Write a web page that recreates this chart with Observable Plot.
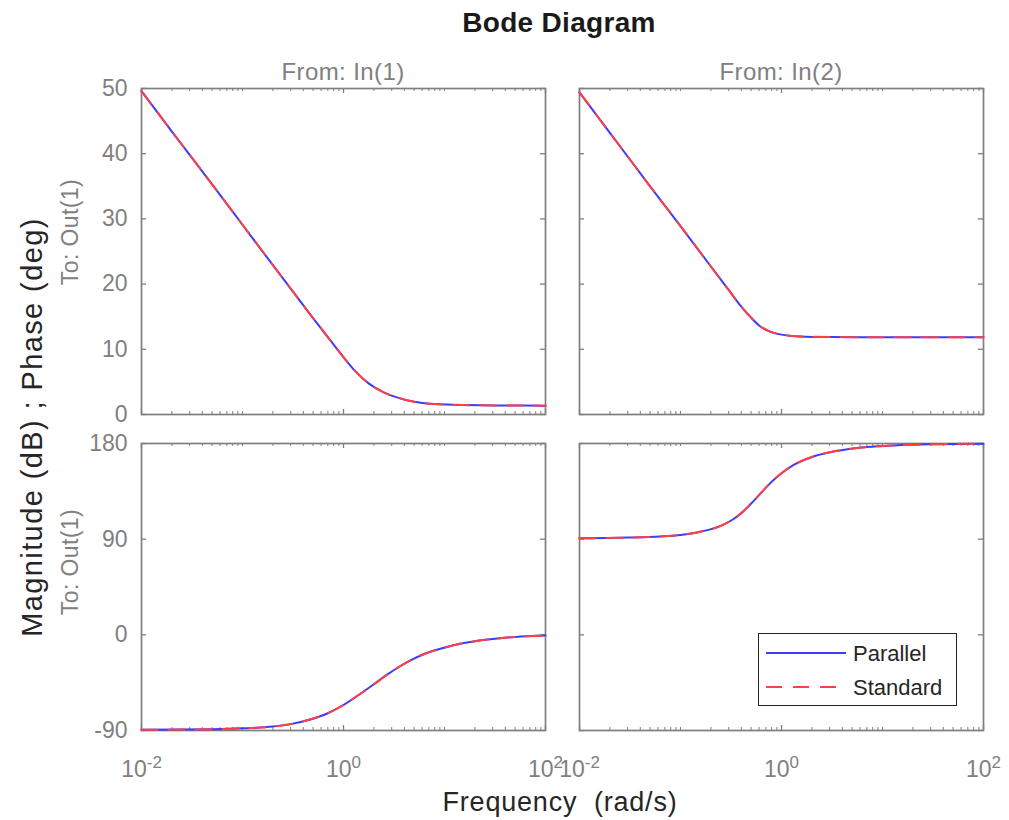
<!DOCTYPE html>
<html>
<head>
<meta charset="utf-8">
<script src="https://cdn.jsdelivr.net/npm/d3@7"></script>
<script src="https://cdn.jsdelivr.net/npm/@observablehq/plot@0.6"></script>
<style>
  html, body { margin: 0; padding: 0; background: #fff; }
  #root { position: relative; width: 1009px; height: 820px; overflow: hidden; font-family: "Liberation Sans", Arial, Helvetica, sans-serif; }
  .txt { position: absolute; white-space: pre; line-height: 1; }
  .plotbox { position: absolute; }
</style>
</head>
<body>
<div id="root"></div>
<script>
// ---------------- data ----------------
const seriesNames = ["Parallel", "Standard"];
const inputNames = ["In(1)", "In(2)"];
const outputName = "Out(1)";

// Magnitude (dB), From In(1)
const freqMagIn1 = [0.01, 0.02, 0.05, 0.1, 0.2, 0.3, 0.45, 0.6, 0.8, 1.0, 1.3, 1.8, 2.5, 3.5, 5, 8, 15, 40, 100];
const magIn1     = [49.6, 43.4, 35.3, 29.1, 22.9, 19.3, 15.7, 13.2, 10.7, 8.8, 6.7, 4.7, 3.4, 2.55, 1.95, 1.6, 1.44, 1.38, 1.36];

// Magnitude (dB), From In(2)
const freqMagIn2 = [0.01, 0.02, 0.05, 0.1, 0.2, 0.3, 0.4, 0.5, 0.6, 0.75, 1.0, 1.5, 3, 10, 100];
const magIn2     = [49.4, 43.2, 35.0, 28.9, 22.7, 19.1, 16.55, 14.85, 13.65, 12.8, 12.25, 11.98, 11.88, 11.85, 11.85];

// Phase (deg), From In(1)
const freqPhaseIn1 = [0.01, 0.05, 0.1, 0.2, 0.3, 0.44, 0.7, 1.0, 1.4, 2.0, 2.75, 3.5, 4.5, 6.3, 9.3, 13.6, 20, 30, 50, 100];
const phaseIn1     = [-89.4, -88.8, -88.0, -86.3, -84.0, -80.4, -73.8, -66.0, -56.8, -46.5, -37.0, -30.5, -24.5, -18.0, -12.9, -8.8, -6.0, -4.0, -2.0, -0.7];

// Phase (deg), From In(2)
const freqPhaseIn2 = [0.01, 0.03, 0.0634, 0.1, 0.15, 0.25, 0.33, 0.4, 0.5, 0.6, 0.7, 0.84, 1.0, 1.32, 2.0, 3.0, 4.2, 7, 13, 30, 100];
const phaseIn2     = [90.8, 91.5, 92.6, 94.0, 96.6, 102.5, 108.5, 114.5, 123.5, 131.5, 138.5, 146.0, 152.0, 159.8, 167.3, 171.8, 174.2, 176.6, 178.2, 179.3, 179.8];

// ticks
const magTicks = [0, 10, 20, 30, 40, 50];
const phaseTicks = [-90, 0, 90, 180];
const freqMajor = [0.01, 1, 100];
const freqMinor = [0.02,0.03,0.04,0.05,0.06,0.07,0.08,0.09,0.1,0.2,0.3,0.4,0.5,0.6,0.7,0.8,0.9,2,3,4,5,6,7,8,9,10,20,30,40,50,60,70,80,90];

// ---------------- styling ----------------
const FONT = '"Liberation Sans", Arial, Helvetica, sans-serif';
const FRAME = "#7f7f7f";
const GRAY_TXT = "#808080";
const DARK_TXT = "#262626";
const BLUE = "#3c3cff";
const RED = "#ff4040";
const DASH = "16,11";

const root = document.getElementById("root");

function rowsFor(freqs, vals) {
  return seriesNames.flatMap(s => freqs.map((f, i) => ({series: s, freq: f, value: vals[i]})));
}

function addText(str, opts) {
  const d = document.createElement("div");
  d.className = "txt";
  d.textContent = str;
  const fs = opts.size;
  d.style.fontSize = fs + "px";
  d.style.color = opts.color;
  if (opts.bold) d.style.fontWeight = "bold";
  if (opts.spacing) d.style.letterSpacing = opts.spacing + "px";
  if (opts.rotate) {
    d.style.left = opts.cx + "px";
    d.style.top = opts.cy + "px";
    d.style.transform = "translate(-50%,-50%) rotate(-90deg)";
  } else {
    d.style.left = opts.cx + "px";
    d.style.top = (opts.baseline - 0.8465 * fs) + "px";
    d.style.transform = "translateX(-50%)";
  }
  root.appendChild(d);
}

function makePanel(cfg) {
  const {rows, yDomain, yTicks, showY, showX, left, top, w, h} = cfg;
  const mL = 80, mR = 34, mT = 10, mB = 62;
  const tickStyle = {stroke: FRAME, strokeWidth: 1.3};
  const par = rows.filter(r => r.series === seriesNames[0]);
  const std = rows.filter(r => r.series === seriesNames[1]);
  const marks = [
    Plot.frame({stroke: FRAME, strokeWidth: 1.7}),
    Plot.tickY(yTicks, {y: d => d, ...tickStyle, insetRight: w - 5}),
    Plot.tickY(yTicks, {y: d => d, ...tickStyle, insetLeft: w - 5}),
    Plot.tickX(freqMajor, {x: d => d, ...tickStyle, insetTop: h - 5}),
    Plot.tickX(freqMajor, {x: d => d, ...tickStyle, insetBottom: h - 5}),
    Plot.tickX(freqMinor, {x: d => d, ...tickStyle, strokeWidth: 1, insetTop: h - 3}),
    Plot.tickX(freqMinor, {x: d => d, ...tickStyle, strokeWidth: 1, insetBottom: h - 3}),
    Plot.line(par, {x: "freq", y: "value", stroke: BLUE, strokeWidth: 2, curve: "monotone-x"}),
    Plot.line(std, {x: "freq", y: "value", stroke: RED, strokeWidth: 2, strokeDasharray: DASH, curve: "monotone-x"})
  ];
  if (showY) {
    marks.push(Plot.axisY(yTicks, {anchor: "left", tickSize: 0, tickPadding: 14, fontSize: 23, fill: GRAY_TXT, tickFormat: d => String(d), label: null}));
  }
  if (showX) {
    marks.push(Plot.axisX(freqMajor, {anchor: "bottom", tickSize: 0, tickPadding: 30, fontSize: 23, fill: GRAY_TXT, tickFormat: d => String(Math.round(Math.log10(d))), label: null}));
  }
  const svg = Plot.plot({
    width: w + mL + mR,
    height: h + mT + mB,
    marginLeft: mL, marginRight: mR, marginTop: mT, marginBottom: mB,
    x: {type: "log", domain: [0.01, 100], axis: null},
    y: {domain: yDomain, axis: null},
    style: {fontFamily: FONT, background: "transparent", color: GRAY_TXT, overflow: "visible"},
    marks
  });
  // superscript exponents on the decade labels
  const ns = "http://www.w3.org/2000/svg";
  svg.querySelectorAll('g[aria-label="x-axis tick label"] text').forEach(t => {
    const e = t.textContent;
    while (t.firstChild) t.removeChild(t.firstChild);
    const a = document.createElementNS(ns, "tspan");
    a.textContent = "10";
    const b = document.createElementNS(ns, "tspan");
    b.textContent = e;
    b.setAttribute("dy", "-9");
    b.setAttribute("font-size", "17");
    t.append(a, b);
  });
  svg.classList.add("plotbox");
  svg.style.left = (left - mL) + "px";
  svg.style.top = (top - mT) + "px";
  svg.style.maxWidth = "none";
  root.appendChild(svg);
}

// panel geometry
const colLeft = [141, 579];
const panelW = 404;
const magTop = 88, magH = 326;
const phaseTop = 443, phaseH = 287;

makePanel({rows: rowsFor(freqMagIn1, magIn1), yDomain: [0, 50], yTicks: magTicks, showY: true, showX: false, left: colLeft[0], top: magTop, w: panelW, h: magH});
makePanel({rows: rowsFor(freqMagIn2, magIn2), yDomain: [0, 50], yTicks: magTicks, showY: false, showX: false, left: colLeft[1], top: magTop, w: panelW, h: magH});
makePanel({rows: rowsFor(freqPhaseIn1, phaseIn1), yDomain: [-90, 180], yTicks: phaseTicks, showY: true, showX: true, left: colLeft[0], top: phaseTop, w: panelW, h: phaseH});
makePanel({rows: rowsFor(freqPhaseIn2, phaseIn2), yDomain: [-90, 180], yTicks: phaseTicks, showY: false, showX: true, left: colLeft[1], top: phaseTop, w: panelW, h: phaseH});

// texts
addText("Bode Diagram", {size: 28, bold: true, color: "#1a1a1a", cx: 559, baseline: 33, spacing: 0.3});
addText("From: " + inputNames[0], {size: 24, color: GRAY_TXT, cx: 343, baseline: 80.5, spacing: 0.4});
addText("From: " + inputNames[1], {size: 24, color: GRAY_TXT, cx: 781, baseline: 80.5, spacing: 0.4});
addText("Frequency  (rad/s)", {size: 27, color: DARK_TXT, cx: 560, baseline: 812, spacing: 0.8});
addText("Magnitude (dB) ; Phase (deg)", {size: 29, color: DARK_TXT, rotate: true, cx: 32, cy: 427, spacing: 1.4});
addText("To: " + outputName, {size: 23, color: GRAY_TXT, rotate: true, cx: 70, cy: 232, spacing: 0.4});
addText("To: " + outputName, {size: 23, color: GRAY_TXT, rotate: true, cx: 70, cy: 562, spacing: 0.4});

// legend
(function legend() {
  const ns = "http://www.w3.org/2000/svg";
  const box = document.createElement("div");
  box.style.cssText = "position:absolute;left:758px;top:633px;width:199px;height:73px;box-sizing:border-box;border:1.6px solid #262626;background:#fff;";
  const s = document.createElementNS(ns, "svg");
  s.setAttribute("width", "196"); s.setAttribute("height", "70");
  s.style.display = "block";
  const items = [
    {name: seriesNames[0], color: BLUE, dash: null},
    {name: seriesNames[1], color: RED, dash: DASH}
  ];
  items.forEach((it, i) => {
    const y = 19 + i * 34;
    const ln = document.createElementNS(ns, "line");
    ln.setAttribute("x1", 7); ln.setAttribute("x2", 87);
    ln.setAttribute("y1", y); ln.setAttribute("y2", y);
    ln.setAttribute("stroke", it.color); ln.setAttribute("stroke-width", 2);
    if (it.dash) ln.setAttribute("stroke-dasharray", it.dash);
    s.appendChild(ln);
    const tx = document.createElementNS(ns, "text");
    tx.setAttribute("x", 94); tx.setAttribute("y", y + 7.5);
    tx.setAttribute("font-family", FONT); tx.setAttribute("font-size", 22);
    tx.setAttribute("fill", DARK_TXT);
    tx.textContent = it.name;
    s.appendChild(tx);
  });
  box.appendChild(s);
  root.appendChild(box);
})();
</script>
</body>
</html>
